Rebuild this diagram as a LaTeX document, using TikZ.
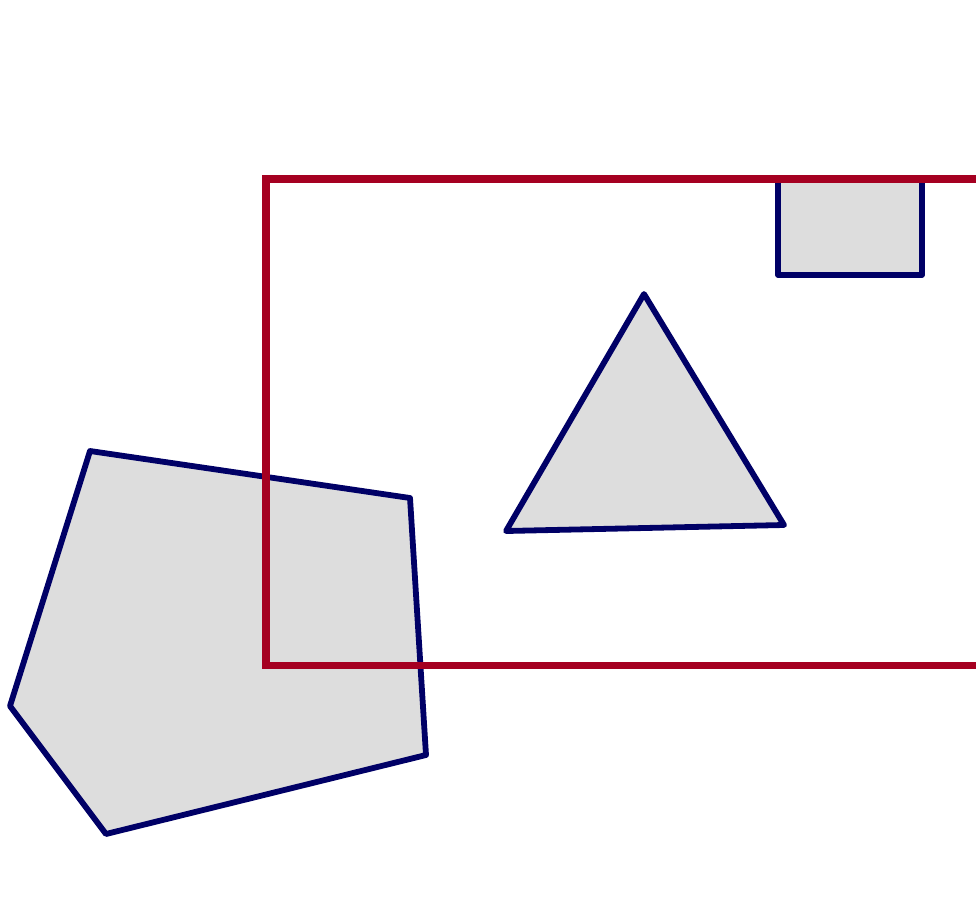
\documentclass[tikz,border=0pt]{standalone}
\definecolor{framered}{HTML}{A50021}
\definecolor{shapenavy}{HTML}{000066}
\definecolor{shapefill}{HTML}{DDDDDD}
\tikzset{
  shapestyle/.style={draw=shapenavy, fill=shapefill, line width=5.8pt, line join=round},
  framestyle/.style={draw=framered, line width=7.5pt}
}
\begin{document}
\begin{tikzpicture}[x=1pt,y=-1pt]
\useasboundingbox (0,0) rectangle (976,915);
\clip (0,0) rectangle (976,915);
\draw[shapestyle] (90,451) -- (410,498) -- (426,755) -- (106,834) -- (10,706) -- cycle;
\draw[shapestyle] (644,294) -- (784,525) -- (506,531) -- cycle;
\draw[shapestyle] (778,179) rectangle (922,275);
\draw[framestyle] (266,179) rectangle (1000,665.5);
\end{tikzpicture}
\end{document}
